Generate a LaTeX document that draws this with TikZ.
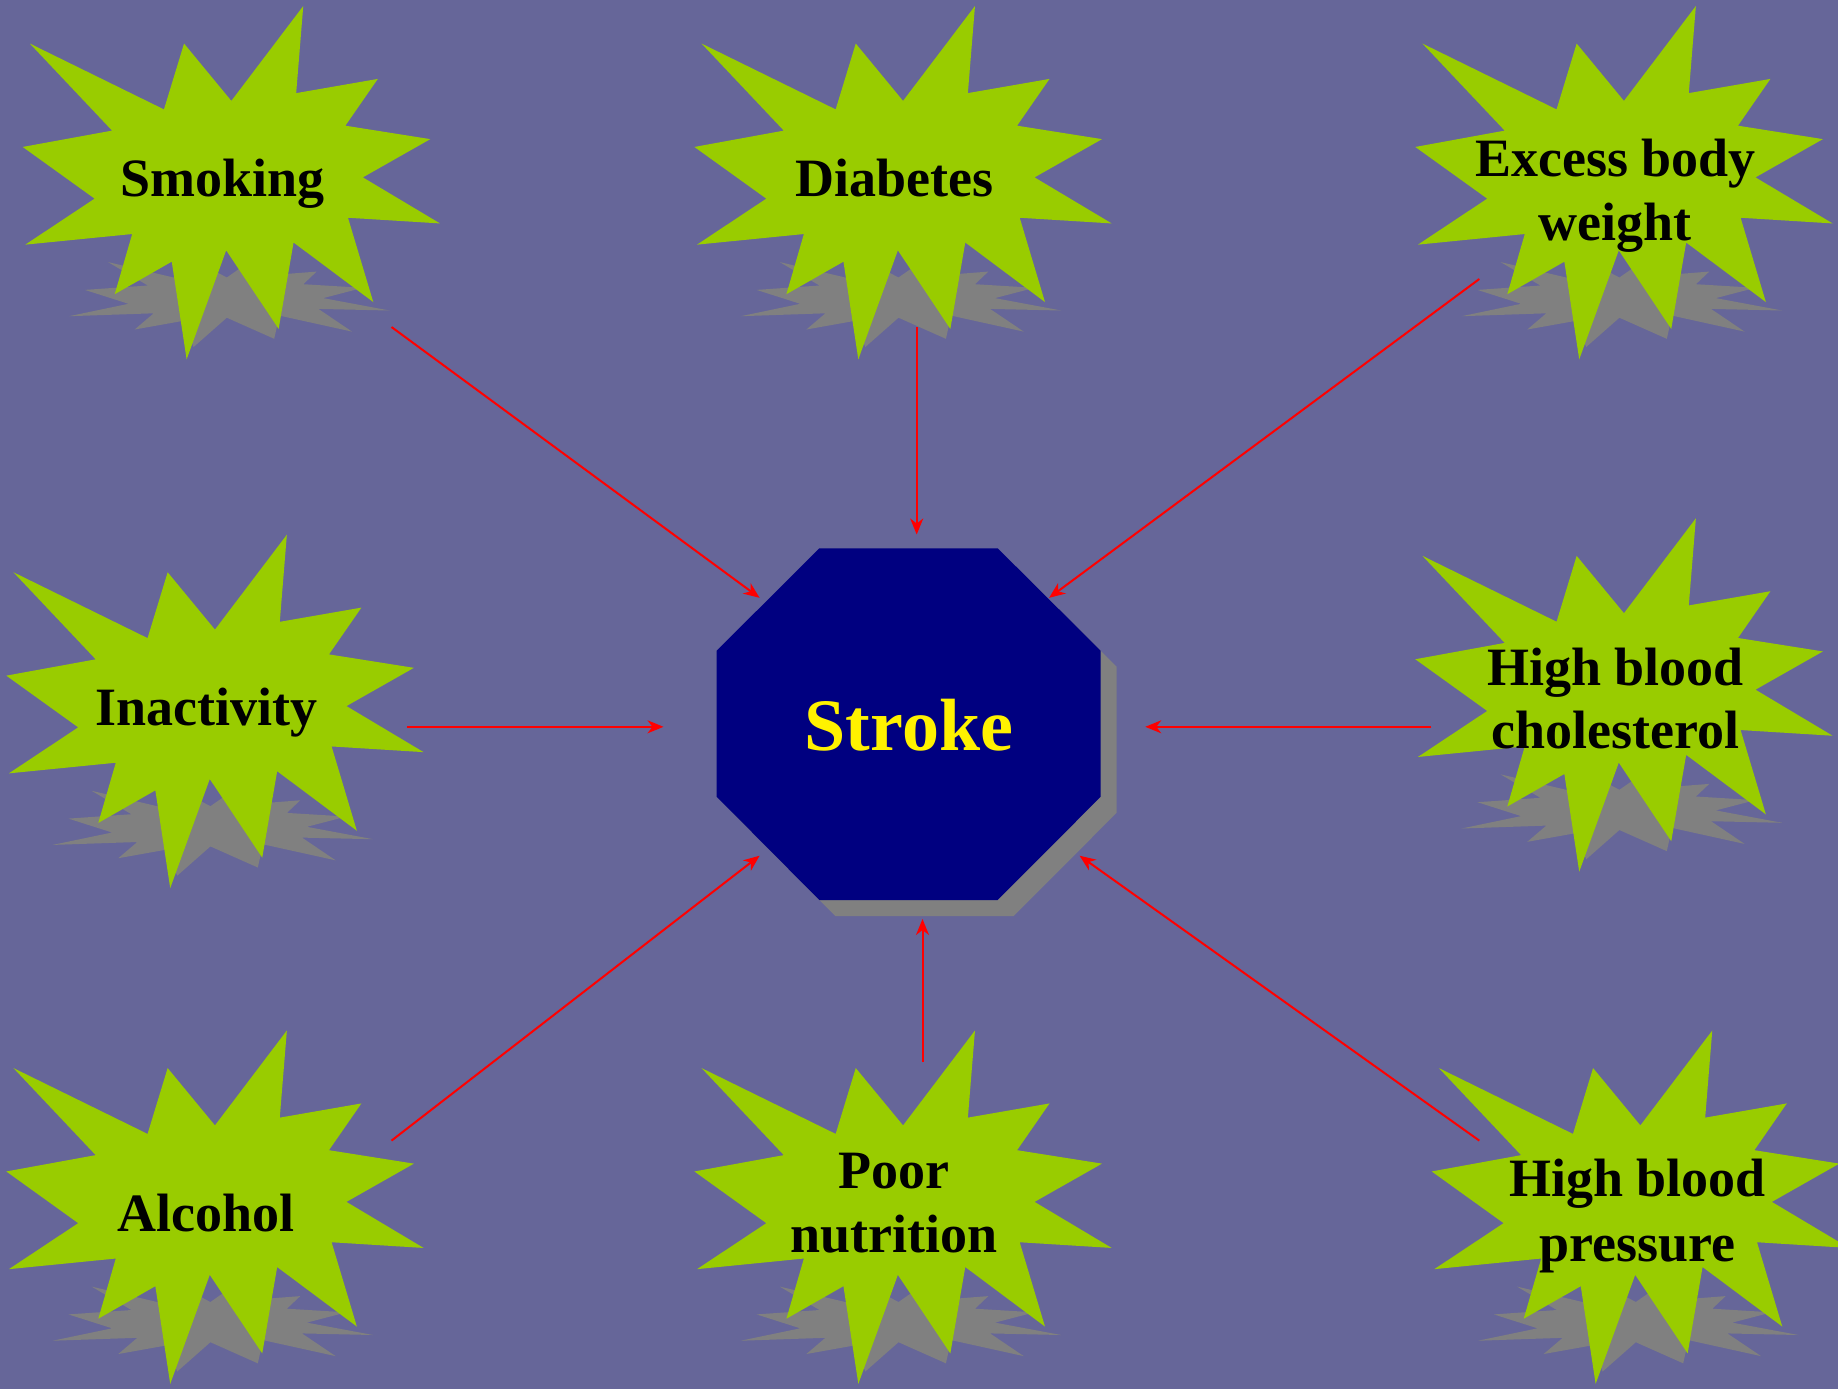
\documentclass[tikz,border=0pt]{standalone}
\usepackage{fontspec}
\setmainfont{Liberation Serif}
\usetikzlibrary{arrows.meta}
\definecolor{bgcol}{HTML}{666699}
\definecolor{burstcol}{HTML}{99CC00}
\definecolor{navycol}{HTML}{000080}
\definecolor{shadecol}{HTML}{808080}
\definecolor{arrowcol}{HTML}{FF0000}
\newcommand\burstat[2]{%
  \begin{scope}[shift={(#1,#2-2)}]
    \fill[shadecol] (204.1,273.5) -- (240.6,248) -- (244.8,271.4) -- (293.9,267.6) -- (280.6,280.2) -- (340.1,283.8) -- (300.5,294.1) -- (366.8,306.5) -- (295.7,304.9) -- (329.3,327.6) -- (256.7,311.6) -- (251.5,334.8) -- (204.1,313.7) -- (170.9,343.0) -- (160.7,316.8) -- (112.0,325.5) -- (131.0,309.3) -- (46.3,312.2) -- (105.8,299.8) -- (62.2,285.9) -- (125.1,281.5) -- (85.4,258.1) -- (160.7,275.8) -- (175.0,258.1) -- cycle;
  \end{scope}
  \begin{scope}[shift={(#1,#2)},xscale=1.932,yscale=1.636]
    \fill[burstcol] (108,58) -- (145.22,0) -- (141.55,53.25) -- (183.80,44.57) -- (167.02,73.15) -- (210.97,81.37) -- (176.07,104.75) -- (216,132.9) -- (168.37,129.42) -- (181.45,180.95) -- (140.20,144.57) -- (132.47,197.37) -- (105.32,149.35) -- (84.85,216) -- (77.15,156.27) -- (47.62,176.17) -- (56.67,139.37) -- (1.35,145.87) -- (37.22,117.75) -- (0,86.15) -- (46.27,76.17) -- (3.70,22.95) -- (73.12,63.20) -- (83.52,22.95) -- cycle;
  \end{scope}}
\begin{document}
\begin{tikzpicture}[x=0.5pt,y=-0.5pt,
  lbl/.style={anchor=base,inner sep=0pt,font=\fontsize{27}{32}\selectfont\bfseries,text=black},
  conn/.style={draw=arrowcol,line width=1pt,-{Stealth[length=8pt,width=6.5pt,inset=2.5pt]}}]
\fill[bgcol] (0,0) rectangle (1838,1389);
\useasboundingbox (0,0) rectangle (1838,1389);
% bursts
\burstat{22.7}{6}
\burstat{694.4}{6}
\burstat{1415.3}{6}
\burstat{6.3}{534.7}
\burstat{1415.3}{518.3}
\burstat{6.3}{1030.5}
\burstat{694.4}{1030.5}
\burstat{1431.7}{1030.5}
% octagon
\fill[shadecol] (835.3,564.3) -- (1013.7,564.3) -- (1116.7,666.7) -- (1116.7,812.7) -- (1013.7,916) -- (835.3,916) -- (732.7,812.7) -- (732.7,666.7) -- cycle;
\fill[navycol] (819.3,548.3) -- (997.7,548.3) -- (1100.7,650.7) -- (1100.7,796.7) -- (997.7,900) -- (819.3,900) -- (716.7,796.7) -- (716.7,650.7) -- cycle;
\node[anchor=base,inner sep=0pt,font=\fontsize{37}{44}\selectfont\bfseries,text=yellow] (stroke) at (909,750) {Stroke};
% labels
\node[lbl] (smoking) at (222.7,196.7) {Smoking};
\node[lbl] (diabetes) at (894.4,196.7) {Diabetes};
\node[lbl] (excessA) at (1615.3,176.7) {Excess body};
\node[lbl] (excessB) at (1615.3,240) {weight};
\node[lbl] (inactivity) at (206.3,725.3) {Inactivity};
\node[lbl] (cholA) at (1615.3,685.5) {High blood};
\node[lbl] (cholB) at (1615.3,748.8) {cholesterol};
\node[lbl] (alcohol) at (206.3,1231.8) {Alcohol};
\node[lbl] (poorA) at (894.4,1188.4) {Poor};
\node[lbl] (poorB) at (894.4,1252.8) {nutrition};
\node[lbl] (bpA) at (1637.6,1196.5) {High blood};
\node[lbl] (bpB) at (1637.6,1261) {pressure};
% connector ends
\coordinate (smokingOut) at (391.5,327);
\coordinate (strokeNW) at (759.6,597.8);
\coordinate (diabetesOut) at (916.7,327);
\coordinate (strokeN) at (916.7,534.5);
\coordinate (excessOut) at (1479.3,279);
\coordinate (strokeNE) at (1049.1,597.8);
\coordinate (inactivityOut) at (406.8,726.8);
\coordinate (strokeW) at (663.5,726.8);
\coordinate (cholOut) at (1431.3,726.8);
\coordinate (strokeE) at (1145.3,726.8);
\coordinate (alcoholOut) at (391.5,1140.6);
\coordinate (strokeSW) at (759.6,855.7);
\coordinate (poorOut) at (922.5,1062);
\coordinate (strokeS) at (922.5,919);
\coordinate (bpOut) at (1479.3,1140.6);
\coordinate (strokeSE) at (1079.6,855.7);
\draw[conn] (smokingOut) -- (strokeNW);
\draw[conn] (diabetesOut) -- (strokeN);
\draw[conn] (excessOut) -- (strokeNE);
\draw[conn] (inactivityOut) -- (strokeW);
\draw[conn] (cholOut) -- (strokeE);
\draw[conn] (alcoholOut) -- (strokeSW);
\draw[conn] (poorOut) -- (strokeS);
\draw[conn] (bpOut) -- (strokeSE);
\end{tikzpicture}
\end{document}
